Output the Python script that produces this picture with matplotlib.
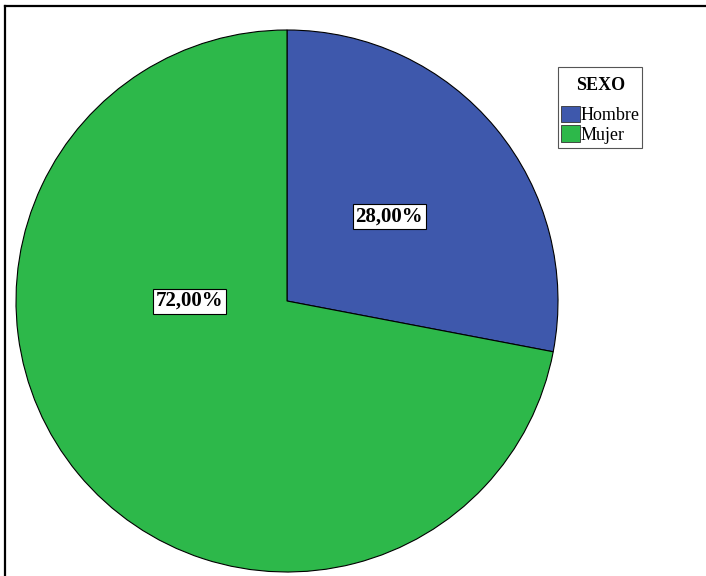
import matplotlib
matplotlib.use("Agg")
import matplotlib.pyplot as plt
from matplotlib.lines import Line2D
from matplotlib.patches import Rectangle

# data
categorias = ["Hombre", "Mujer"]
porcentajes = [28.0, 72.0]
colores = ["#3E58AC", "#2DB84A"]
titulo_leyenda = "SEXO"

plt.rcParams["font.family"] = ["Liberation Serif", "DejaVu Serif"]

W, H = 706, 576
fig = plt.figure(figsize=(W / 100, H / 100), dpi=100)

# pie axes: centre (287, 301), radius 271 px
r = 271
cx, cy = 287, 301
ax = fig.add_axes([(cx - r) / W, (H - cy - r) / H, 2 * r / W, 2 * r / H])
wedges, texts, autotexts = ax.pie(
    porcentajes, colors=colores, startangle=90, counterclock=False,
    autopct=lambda p: f"{p:.2f}%".replace(".", ","), pctdistance=0.49,
    wedgeprops=dict(edgecolor="black", linewidth=0.8),
    textprops=dict(fontsize=15, color="black", weight="bold"))
ax.set_xlim(-1, 1)
ax.set_ylim(-1, 1)
ax.set_aspect("auto")
ax.axis("off")

# SPSS puts the bigger label at the left side
autotexts[1].set_position((-0.36, 0.0))
for t in autotexts:
    t.set_bbox(dict(facecolor="white", edgecolor="black", linewidth=0.8, pad=1.8))

# legend box drawn separately, legend content without frame
fig.add_artist(Rectangle((558 / W, 1 - 148 / H), 84 / W, 81 / H, transform=fig.transFigure,
                         facecolor="white", edgecolor="#555555", linewidth=0.8))
leg = fig.legend(wedges, categorias, title=titulo_leyenda,
                 loc="upper left", bbox_to_anchor=(558 / W, 1 - 74 / H),
                 fontsize=13, title_fontproperties=dict(weight="bold", size=13),
                 frameon=False, handlelength=1.05, handleheight=1.0,
                 handletextpad=0.05, borderpad=0.15, labelspacing=0.05,
                 borderaxespad=0)
leg._legend_box.sep = 9
for p in leg.get_patches():
    p.set_edgecolor("#333333")
    p.set_linewidth(0.6)

# outer frame (cut off at right and bottom)
fig.add_artist(Line2D([5 / W, 5 / W], [0, 1 - 6 / H], color="black", linewidth=1.6))
fig.add_artist(Line2D([5 / W, 1], [1 - 6 / H, 1 - 6 / H], color="black", linewidth=1.6))

fig.savefig("out.png", dpi=100)
